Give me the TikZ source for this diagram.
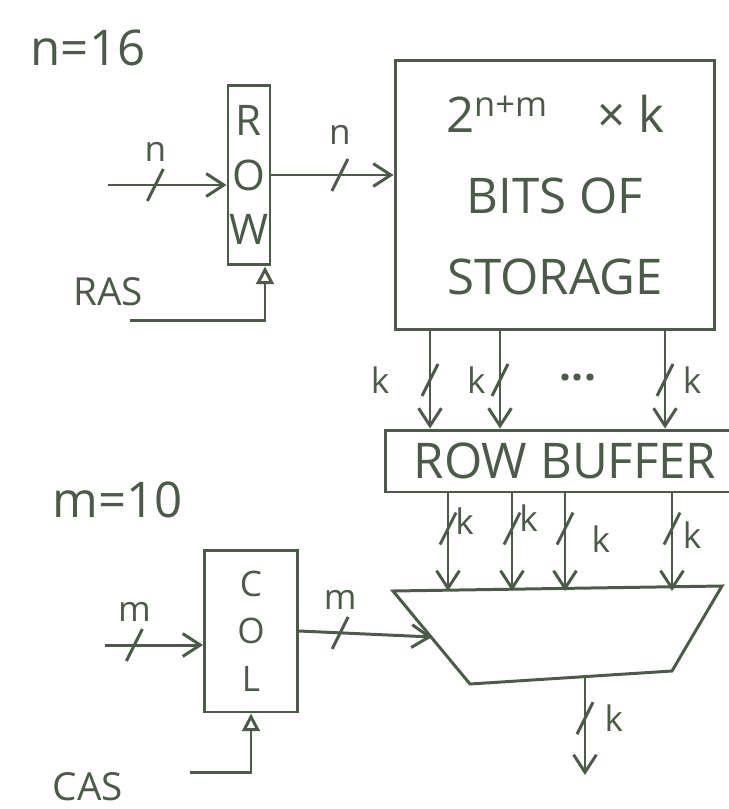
\documentclass[tikz,border=0pt]{standalone}
\usepackage{fontspec}
\setmainfont{Open Sans}
\usetikzlibrary{positioning, calc, arrows.meta}
\definecolor{pencil}{HTML}{4C5A4A}
\tikzset{
	blocknode/.style={
			draw=pencil,
			line width=1.7pt,
			text=pencil,
			inner sep=0pt,
			align=center
		},
	wire/.style={
			draw=pencil,
			line width=1.7pt,
			-{Straight Barb[length=10pt,width=13pt]}
		},
	clockwire/.style={
			draw=pencil,
			line width=1.7pt,
			-{Triangle[open,length=10pt,width=10pt]}
		},
	muxline/.style={
			draw=pencil,
			line width=1.7pt
		},
	buslabel/.style={
			text=pencil,
			inner sep=1pt,
			font=\fontsize{20}{20}\selectfont
		},
	signalnode/.style={
			text=pencil,
			inner sep=0pt,
			font=\fontsize{22}{22}\selectfont
		}
}
\newcommand{\busslash}[1]{\draw[muxline] (#1) ++(-8,16) -- ++(16,-32);}

\begin{document}
\begin{tikzpicture}[x=0.02cm, y=-0.02cm]
\useasboundingbox (0,0) rectangle (729,809);

% widths
\node[signalnode, font=\fontsize{28}{28}\selectfont] (nval) at (88,48) {n=16};
\node[signalnode, font=\fontsize{28}{28}\selectfont] (mval) at (118,500) {m=10};

% blocks
\node[blocknode, minimum width=0.84cm, minimum height=3.6cm, font=\fontsize{24}{31}\selectfont] (row) at (249,175) {R\\O\\W};
\node[blocknode, minimum width=6.4cm, minimum height=5.4cm, font=\fontsize{28}{46}\selectfont] (storage) at (555,195) {2\textsuperscript{n+m}\quad × k\\BITS OF\\STORAGE};
\node[blocknode, minimum width=7.2cm, minimum height=1.24cm, font=\fontsize{28}{28}\selectfont] (rowbuf) at (565,461) {ROW BUFFER};
\node[blocknode, minimum width=1.86cm, minimum height=3.24cm, font=\fontsize{20}{27}\selectfont] (col) at (251,631) {C\\O\\L};

% column mux
\coordinate (muxtl) at (393,591);
\coordinate (muxtr) at (722,586);
\coordinate (muxbr) at (672,671);
\coordinate (muxbl) at (470,684);
\draw[muxline] (muxtl) -- (muxtr) -- (muxbr) -- (muxbl) -- cycle;
\coordinate (muxin) at (432,637);
\coordinate (muxout) at (585,677);

% row address
\coordinate (rowin) at (108,185);
\draw[wire] (rowin) -- coordinate[pos=0.4] (rowinbus) (rowin -| row.west);
\busslash{rowinbus}
\node[buslabel, above=12pt of rowinbus] (rowinlbl) {n};

\draw[wire] (row.east) -- coordinate[pos=0.56] (rowoutbus) (row.east -| storage.west);
\busslash{rowoutbus}
\node[buslabel, above=16pt of rowoutbus] (rowoutlbl) {n};

\node[signalnode] (ras) at (108,292) {RAS};
\coordinate (rasin) at (130,320);
\draw[clockwire] (rasin) -| ($(row.south)+(16,0)$);

% storage to row buffer
\foreach \x/\name in {430/a, 500/b, 665/c}
  \draw[wire] (\x,0 |- storage.south) -- coordinate[pos=0.5] (sb\name) (\x,0 |- rowbuf.north);
\busslash{sba}
\busslash{sbb}
\busslash{sbc}
\node[buslabel, left=22pt of sba] (sbalbl) {k};
\node[buslabel, left=7pt of sbb] (sbblbl) {k};
\node[buslabel, right=9pt of sbc] (sbclbl) {k};
\node[buslabel, font=\fontsize{24}{24}\bfseries] (dots) at (578,378) {...};

% row buffer to mux
\foreach \x/\name in {448/a, 512/b, 565/c, 672/d}
  \draw[wire] (\x,0 |- rowbuf.south) -- coordinate[pos=0.36] (bm\name) (\x,0 |- muxtl);
\busslash{bma}
\busslash{bmb}
\busslash{bmc}
\busslash{bmd}
\node[buslabel, right=3pt of bma, yshift=4pt] (bmalbl) {k};
\node[buslabel, right=3pt of bmb, yshift=6pt] (bmblbl) {k};
\node[buslabel, right=14pt of bmc, yshift=-6pt] (bmclbl) {k};
\node[buslabel, right=5pt of bmd, yshift=-4pt] (bmdlbl) {k};

% column address
\coordinate (colin) at (105,645);
\draw[wire] (colin) -- coordinate[pos=0.3] (colinbus) (colin -| col.west);
\busslash{colinbus}
\node[buslabel, above=12pt of colinbus] (colinlbl) {m};

\draw[wire] (col.east) -- coordinate[pos=0.31] (coloutbus) (muxin);
\busslash{coloutbus}
\node[buslabel, above=12pt of coloutbus] (coloutlbl) {m};

\node[signalnode] (cas) at (88,787) {CAS};
\coordinate (casin) at (190,772);
\draw[clockwire] (casin) -| (col.south);

% data out
\coordinate (dataout) at (585,775);
\draw[wire] (muxout) -- coordinate[pos=0.42] (outbus) (dataout);
\busslash{outbus}
\node[buslabel, right=10pt of outbus] (outlbl) {k};

\end{tikzpicture}
\end{document}
